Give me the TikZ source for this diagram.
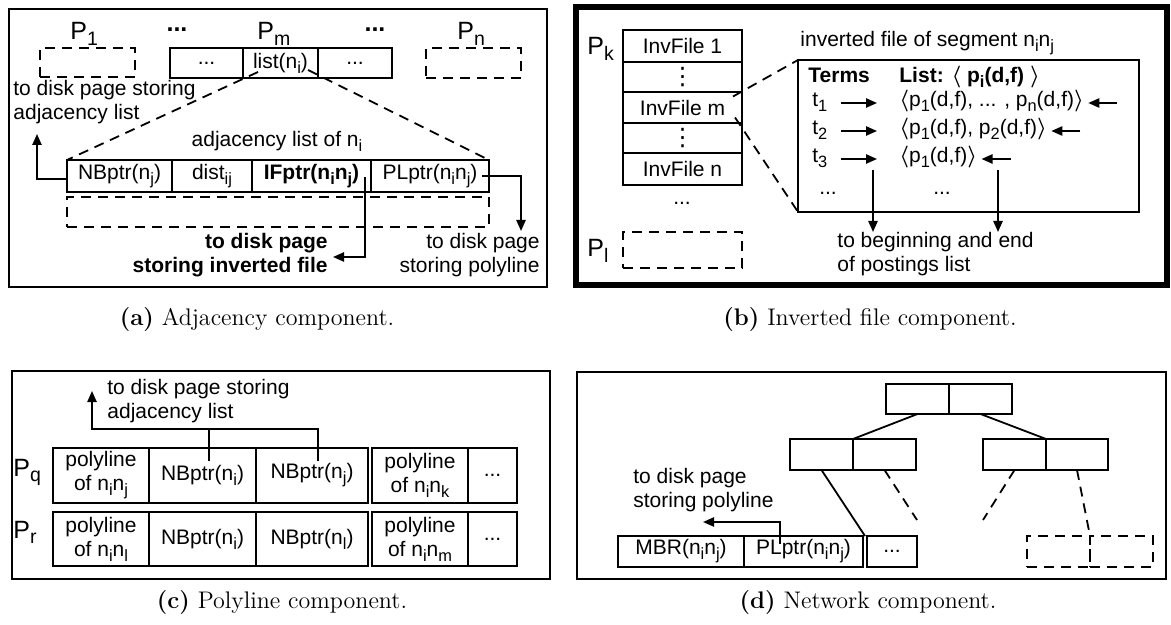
\documentclass[tikz,border=0pt]{standalone}
\usepackage{fontspec}
\setsansfont{Liberation Sans}
\newfontfamily\symfont{DejaVu Sans}
\usepackage{amsmath,amssymb}
\usetikzlibrary{arrows.meta,calc}
\newcommand{\sub}[1]{\raisebox{-0.45ex}{\scalebox{0.78}{#1}}}
\newcommand{\vdotbox}{{\symfont\fontsize{12}{12}\selectfont ⋮}}
\tikzset{
  font=\sffamily\fontsize{10.5}{12}\selectfont,
  >={Triangle[length=5.5pt,width=4.6pt]},
  sz/.style 2 args = {minimum width=#1*0.5pt, minimum height=#2*0.5pt},
  frame/.style  = {draw, line width=0.9pt, inner sep=0pt, outer sep=0pt, anchor=north west},
  bframe/.style = {frame, line width=3pt},
  cell/.style   = {draw, line width=0.9pt, inner sep=0pt, outer sep=0pt,
                   anchor=north west, align=center},
  dcell/.style  = {cell, dash pattern=on 5pt off 3.5pt},
  txt/.style    = {inner sep=0pt},
  txtl/.style   = {txt, align=left},
  txtr/.style   = {txt, align=right},
  bold/.style   = {font=\sffamily\bfseries\fontsize{10.5}{12}\selectfont},
  plabel/.style = {inner sep=0pt, font=\sffamily\fontsize{12.5}{14}\selectfont},
  flow/.style   = {->, line width=0.9pt},
  wire/.style   = {line width=0.9pt},
  zoom/.style   = {line width=0.9pt, dash pattern=on 5pt off 3.5pt},
  capt/.style   = {inner sep=0pt, font=\rmfamily\fontsize{12}{14}\selectfont},
}

\begin{document}
\begin{tikzpicture}[x=0.5pt, y=-0.5pt]
\useasboundingbox (0,0) rectangle (1171,625);

% ---- (a) adjacency component -------------------------------------------
\node[frame, sz={538}{278}] (pa) at (9,9) {};
\node[plabel, anchor=base west] (p1) at (70,40) {P\sub{1}};
\node[plabel, anchor=base] (pdots1) at (177,32) {\textbf{...}};
\node[plabel, anchor=base west] (pm) at (257,40) {P\sub{m}};
\node[plabel, anchor=base] (pdots2) at (375,32) {\textbf{...}};
\node[plabel, anchor=base west] (pn) at (457,40) {P\sub{n}};
\node[dcell, sz={95}{29}] (pg1) at (40,48) {};
\node[cell, sz={73}{30}] (pgm1) at (170,48) {...};
\node[cell, sz={75}{30}] (lst) at (243,48) {list(n\sub{i})};
\node[cell, sz={74}{30}] (pgm3) at (318,48) {...};
\node[dcell, sz={95}{30}] (pgn) at (426,48) {};

\node[txtl, anchor=north west] (adjtxt) at (13,80) {to disk page storing\\adjacency list};
\node[txt, anchor=base] (adjof) at (277,147) {adjacency list of n\sub{i}};

\node[cell, sz={105}{32}] (nb) at (67,160) {NBptr(n\sub{j})};
\node[cell, sz={80}{32}] (dist) at (172,160) {dist\sub{ij}};
\node[cell, sz={119}{32}, bold] (ifp) at (252,160) {IFptr(n\sub{i}n\sub{j})};
\node[cell, sz={118}{32}] (plp) at (371,160) {PLptr(n\sub{i}n\sub{j})};
\node[dcell, sz={422}{30}] (rest) at (67,197) {};

\node[txtr, bold, anchor=north east] (iftxt) at (328,233) {to disk page\\storing inverted file};
\node[txtr, anchor=north east] (pltxt) at (540,233) {to disk page\\storing polyline};

\draw[zoom] ($(lst.south west)+(15,-6)$) -- (nb.north west);
\draw[zoom] ($(lst.south)+(27.5,-8)$) -- (plp.north east);

\coordinate (a-up) at (37,134);
\coordinate (a-if) at (333,257);
\coordinate (a-pl) at (521,231);
\draw[flow] ([yshift=-1.5pt]nb.west) -| (a-up);
\draw[flow] ($(ifp.center)+(53.5,1)$) |- (a-if);
\draw[flow] ($(plp.center)+(52,0)$) -| (a-pl);

% ---- (b) inverted file component ---------------------------------------
\node[bframe, sz={591}{278}] (pb) at (576,7) {};
\node[plabel, anchor=base west] (pk) at (587,55) {P\sub{k}};
\node[cell, sz={119}{32}] (iv1) at (623,30) {InvFile 1};
\node[cell, sz={119}{30}] (iv2) at (623,62) {\vdotbox};
\node[cell, sz={119}{31}] (ivm) at (623,92) {InvFile m};
\node[cell, sz={119}{30}] (iv4) at (623,123) {\vdotbox};
\node[cell, sz={119}{32}] (ivn) at (623,153) {InvFile n};
\node[txt] (ivdots) at (682,203) {...};
\node[plabel, anchor=base west] (pl) at (587,257) {P\sub{l}};
\node[dcell, sz={119}{36}] (ivl) at (623,232) {};

\node[txt, anchor=base west] (segtxt) at (800,47) {inverted file of segment n\sub{i}n\sub{j}};
\node[cell, sz={341}{152}] (ibox) at (798,60) {};
\draw[zoom] ($(ivm.east)+(-9,-11)$) -- (ibox.north west);
\draw[zoom] ($(ivm.east)+(-7,10)$) -- (ibox.south west);

\node[txt, bold, anchor=base west] (terms) at (808,83) {Terms};
\node[txt, bold, anchor=base west] (lhead) at (899,83)
  {List: {\boldmath$\langle$} p\sub{i}(d,f) {\boldmath$\rangle$}};
\node[txt, anchor=base west] (t1) at (812,107) {t\sub{1}};
\node[txt, anchor=base west] (t2) at (812,135) {t\sub{2}};
\node[txt, anchor=base west] (t3) at (812,163) {t\sub{3}};
\node[txt, anchor=base west] (l1) at (899,107)
  {{\boldmath$\langle$}p\sub{1}(d,f), ... , p\sub{n}(d,f){\boldmath$\rangle$}};
\node[txt, anchor=base west] (l2) at (899,135)
  {{\boldmath$\langle$}p\sub{1}(d,f), p\sub{2}(d,f){\boldmath$\rangle$}};
\node[txt, anchor=base west] (l3) at (899,163)
  {{\boldmath$\langle$}p\sub{1}(d,f){\boldmath$\rangle$}};
\foreach \r in {1,2,3} {
  \draw[flow] ($(t\r.base east)+(13,-4)$) -- ($(l\r.base west)+(-22,-4)$);
  \draw[flow] ($(l\r.base east)+(33,-4)$) -- ($(l\r.base east)+(4,-4)$);
}
\node[txt] (tdots) at (828,193) {...};
\node[txt] (ldots) at (942,193) {...};

\node[txtl, anchor=north west] (post) at (837,232) {to beginning and end\\of postings list};
\coordinate (b-d1) at (873,170);
\coordinate (b-d2) at (998,170);
\draw[flow] (b-d1) -- (b-d1 |- post.north);
\draw[flow] (b-d2) -- (b-d2 |- post.north);

% ---- (c) polyline component --------------------------------------------
\node[frame, sz={538}{208}] (pc) at (12,371) {};
\node[plabel, anchor=base west] (pq) at (13,476) {P\sub{q}};
\node[plabel, anchor=base west] (pr) at (13,538) {P\sub{r}};
\node[cell, sz={96}{55}] (q1) at (53,448) {polyline\\of n\sub{i}n\sub{j}};
\node[cell, sz={107}{55}] (q2) at (149,448) {NBptr(n\sub{i})};
\node[cell, sz={112}{55}] (q3) at (256,448) {NBptr(n\sub{j})};
\node[cell, sz={96}{55}] (q4) at (372,448) {polyline\\of n\sub{i}n\sub{k}};
\node[cell, sz={49}{55}] (q5) at (468,448) {...};
\node[cell, sz={96}{54}] (r1) at (53,512) {polyline\\of n\sub{i}n\sub{l}};
\node[cell, sz={107}{54}] (r2) at (149,512) {NBptr(n\sub{i})};
\node[cell, sz={112}{54}] (r3) at (256,512) {NBptr(n\sub{l})};
\node[cell, sz={96}{54}] (r4) at (372,512) {polyline\\of n\sub{i}n\sub{m}};
\node[cell, sz={49}{54}] (r5) at (468,512) {...};

\node[txtl, anchor=north west] (ctxt) at (107,379) {to disk page storing\\adjacency list};
\coordinate (c-turn) at (92,429);
\coordinate (c-tip) at (92,391);
\draw[wire] ($(q3.center)+(6,-15)$) |- (c-turn);
\draw[flow] ($(q2.center)+(6.5,-15)$) |- (c-turn) -- (c-tip);

% ---- (d) network component ---------------------------------------------
\node[frame, sz={589}{207}] (pd) at (577,372) {};
\node[cell, sz={63}{30}] (n0a) at (886,384) {};
\node[cell, sz={63}{30}] (n0b) at (949,384) {};
\node[cell, sz={63}{31}] (n1a) at (790,439) {};
\node[cell, sz={63}{31}] (n1b) at (853,439) {};
\node[cell, sz={63}{31}] (n2a) at (983,439) {};
\node[cell, sz={62}{31}] (n2b) at (1046,439) {};
\node[cell, sz={126}{31}] (mbr) at (618,536) {MBR(n\sub{i}n\sub{j})};
\node[cell, sz={119}{31}] (plq) at (744,536) {PLptr(n\sub{i}n\sub{j})};
\node[cell, sz={50}{31}] (lfd) at (867,536) {...};
\node[dcell, sz={63}{31}] (lfa) at (1027,536) {};
\node[dcell, sz={63}{31}] (lfb) at (1090,536) {};

\draw[wire] (n0a.south) -- (n1a.north east);
\draw[wire] (n0b.south) -- (n2a.north east);
\draw[wire] (n1a.south) -- ($(plq.north east)!0.5!(lfd.north west)$);
\coordinate (d-e1) at (917,520);
\coordinate (d-e2) at (983,520);
\draw[zoom] (n1b.south) -- (d-e1);
\draw[zoom] (n2a.south) -- (d-e2);
\draw[zoom] (n2b.south) -- (lfa.north east);

\node[txtl, anchor=north west] (dtxt) at (633,468) {to disk page\\storing polyline};
\coordinate (d-tip) at (703,522);
\draw[flow] ($(plq.center)+(-23.5,-8)$) |- (d-tip);

% ---- captions -----------------------------------------------------------
\node[capt] (capa) at (257,320) {\textbf{(a)} Adjacency component.};
\node[capt] (capb) at (870,320) {\textbf{(b)} Inverted file component.};
\node[capt] (capc) at (282,603) {\textbf{(c)} Polyline component.};
\node[capt] (capd) at (868,603) {\textbf{(d)} Network component.};

\end{tikzpicture}
\end{document}
